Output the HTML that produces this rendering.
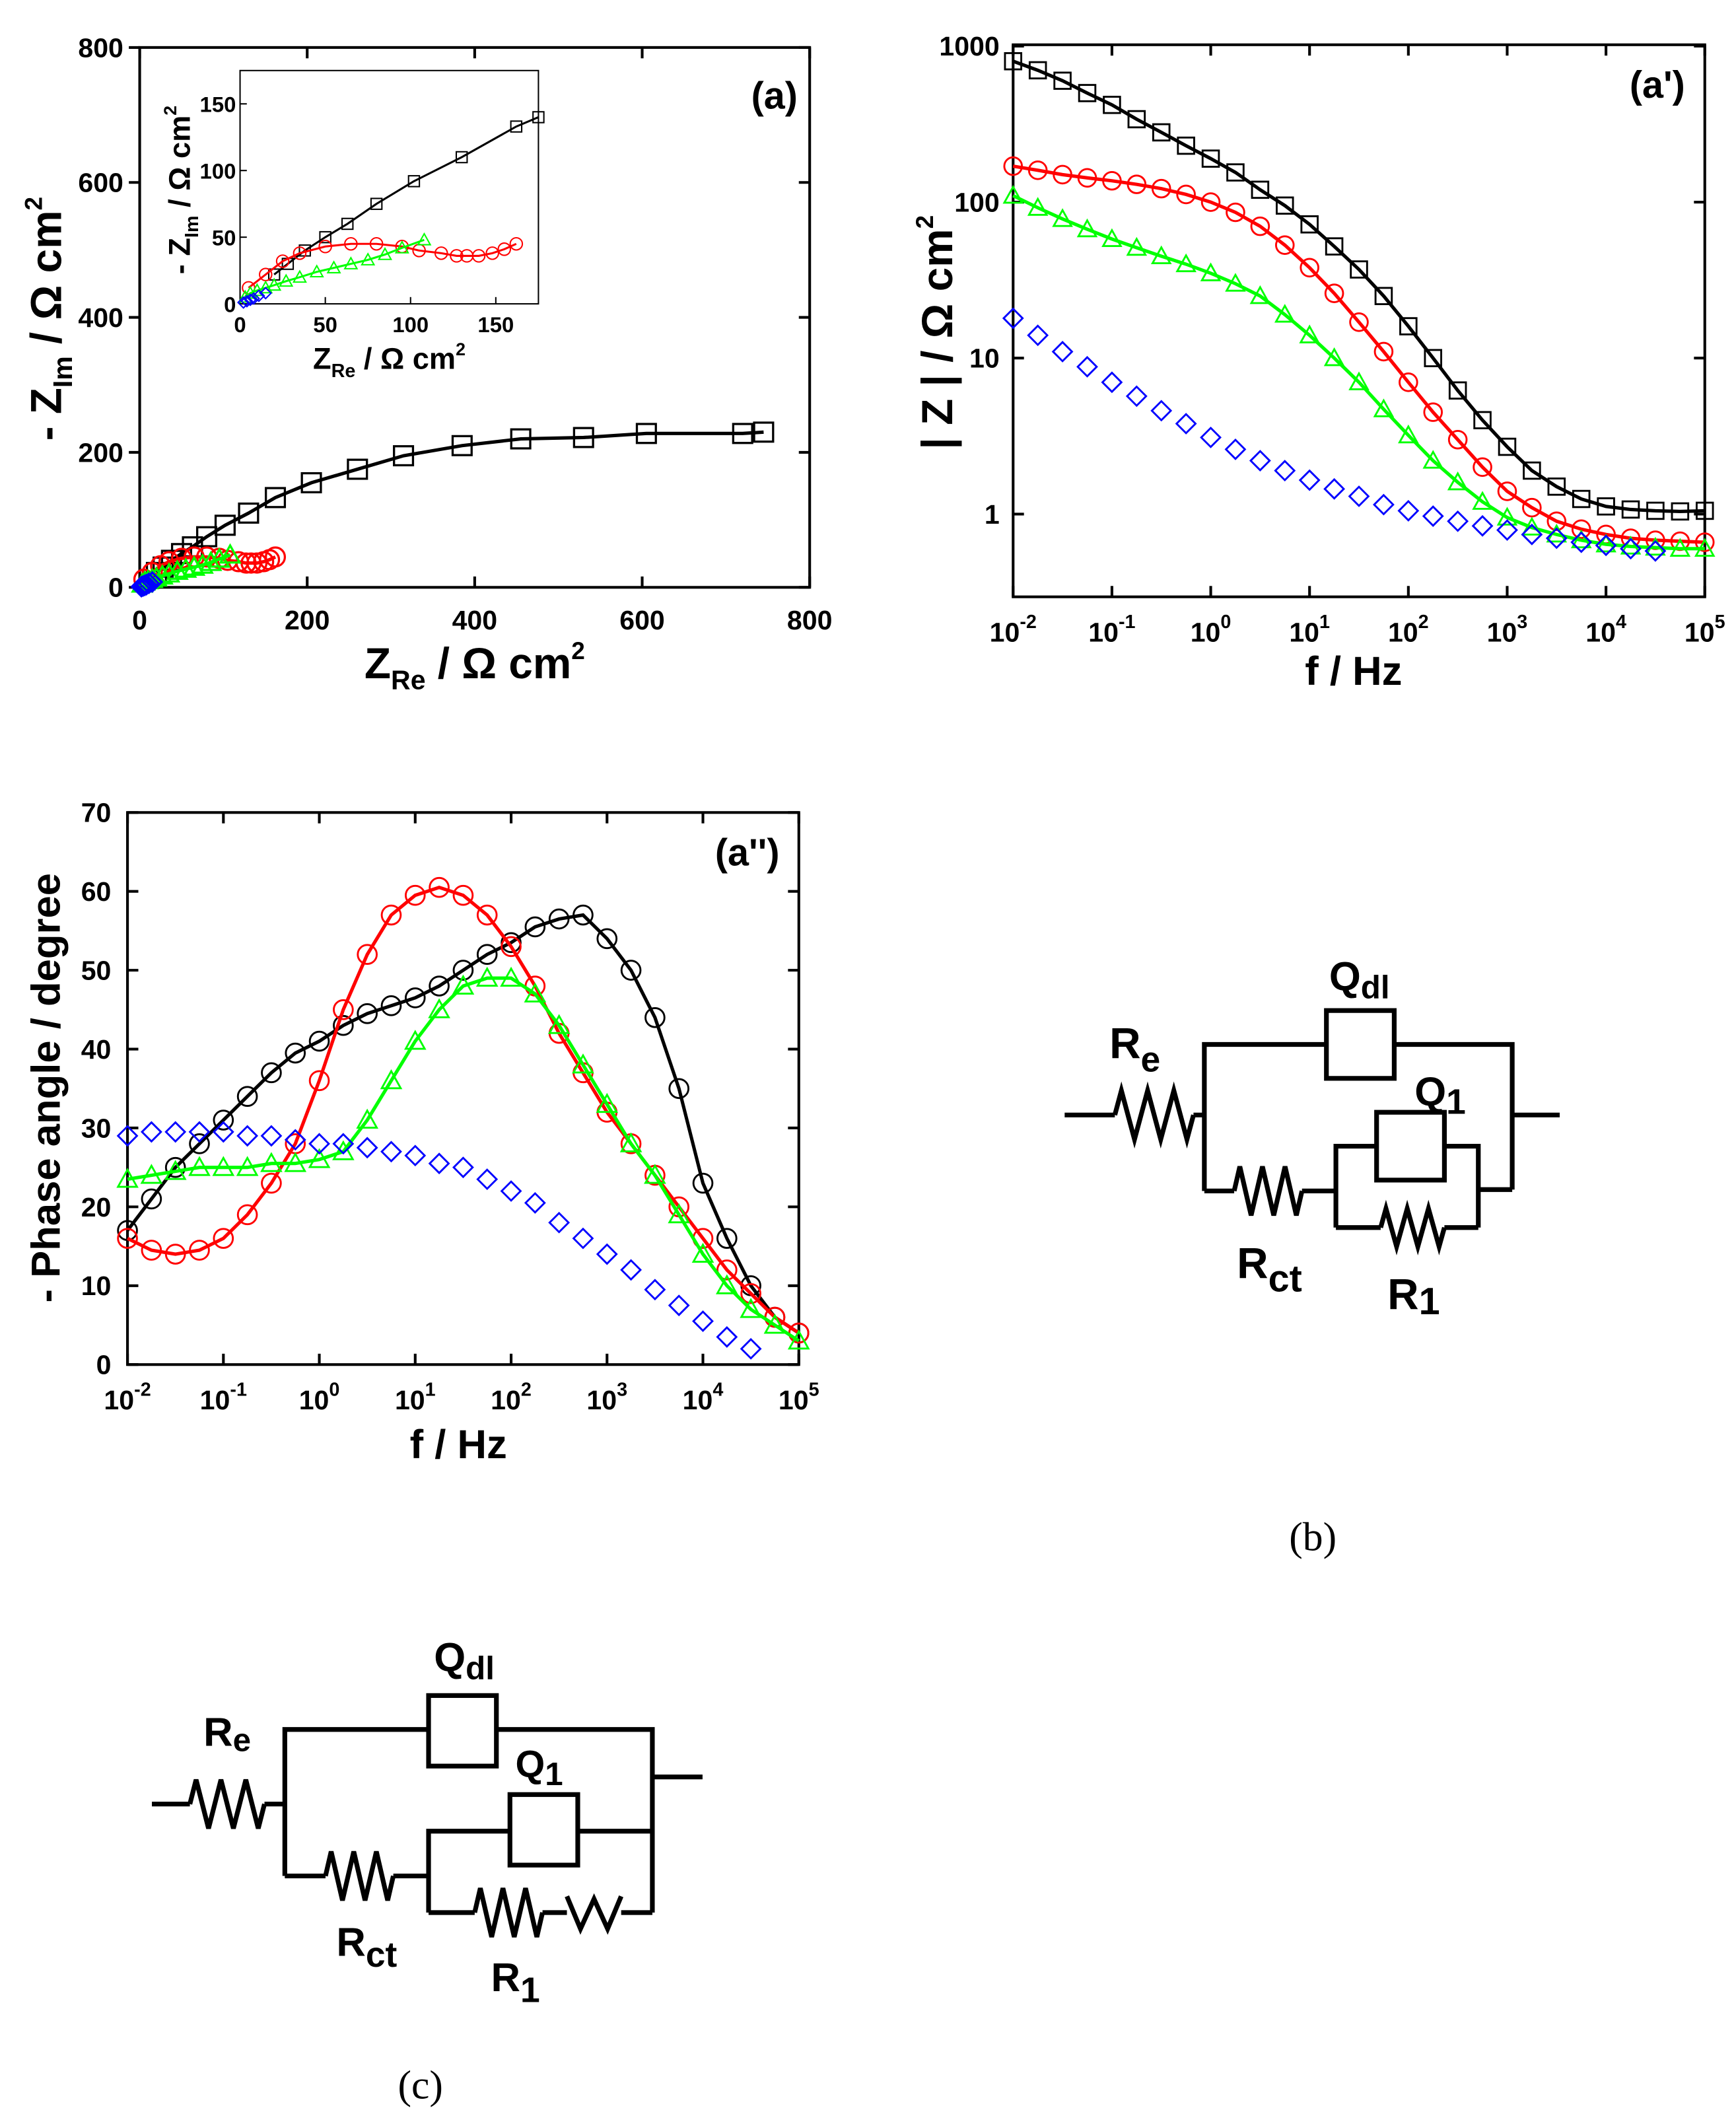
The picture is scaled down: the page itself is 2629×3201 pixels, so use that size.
<!DOCTYPE html>
<html><head><meta charset="utf-8"><style>
html,body{margin:0;padding:0;background:#fff}
svg{display:block}
text{font-family:"Liberation Sans",Arial,sans-serif;font-weight:bold}
text.serif{font-family:"Liberation Serif",serif;font-weight:normal}
</style></head><body>
<svg id="s" width="2629" height="3201" viewBox="0 0 1280 1558.5" xmlns="http://www.w3.org/2000/svg"></svg>
<script>
// ---- Nyquist data ----
const nyqBlackX=[20,28,38,50,63,80,102,130,162,205,260,315,385,455,530,605,720,745];
const nyqBlackY=[22,30,40,50,60,75,92,110,133,155,175,195,210,220,222,228,228,230];
const nyqRedX=[5,15,25,35,50,65,80,95,105,118,127,133,140,148,155,162];
const nyqRedY=[12,22,32,38,43,45,45,43,40,38,36,36,36,38,41,45];
const nyqGreenX=[3,6,10,15,20,27,35,45,55,65,75,85,95,108];
const nyqGreenY=[5,8,10,12,14,17,20,24,27,30,33,37,42,48];
const nyqBlueX=[2,4,6,8,11,15];
const nyqBlueY=[1,2,3,4,6,8];
// ---- Bode data (log10 f) ----
const logF=[-2,-1.75,-1.5,-1.25,-1,-0.75,-0.5,-0.25,0,0.25,0.5,0.75,1,1.25,1.5,1.75,2,2.25,2.5,2.75,3,3.25,3.5,3.75,4,4.25,4.5,4.75,5];
const magBlack=[800,700,600,500,420,340,280,230,190,155,120,95,72,52,37,25,16,10,6.2,4,2.7,1.9,1.5,1.25,1.12,1.07,1.05,1.04,1.05];
const magRed=[170,160,150,143,137,130,122,112,100,86,70,53,38,26,17,11,7,4.5,3,2,1.4,1.1,0.9,0.8,0.74,0.7,0.68,0.67,0.66];
const magGreen=[110,92,78,67,58,51,45,40,35,30,25,19,14,10,7,4.7,3.2,2.2,1.6,1.2,0.95,0.82,0.74,0.68,0.64,0.62,0.61,0.6,0.6];
const magBlue=[18,14,11,8.8,7.0,5.7,4.6,3.8,3.1,2.6,2.2,1.9,1.65,1.45,1.3,1.15,1.05,0.97,0.9,0.84,0.79,0.74,0.7,0.66,0.63,0.6,0.58];
const phBlack=[17,21,25,28,31,34,37,39.5,41,43,44.5,45.5,46.5,48,50,52,53.5,55.5,56.5,57,54,50,44,35,23,16,10,6,4];
const phRed=[16,14.5,14,14.5,16,19,23,28,36,45,52,57,59.5,60.5,59.5,57,53,48,42,37,32,28,24,20,16,12,9,6,4];
const phGreen=[23.5,24,24.5,25,25,25,25.5,25.5,26,27,31,36,41,45,48,49,49,47,43,38,33,28,24,19,14,10,7,5,3];
const phBlue=[29,29.5,29.5,29.5,29.5,29,29,28.5,28,28,27.5,27,26.5,25.5,25,23.5,22,20.5,18,16,14,12,9.5,7.5,5.5,3.5,2];
const nyqTicks=[0,200,400,600,800];
const insetTicks=[0,50,100,150];
const phTicks=[0,10,20,30,40,50,60,70];
const magTicks=[1,10,100,1000];
const decTicks=[-2,-1,0,1,2,3,4,5];

const S=document.getElementById('s');
const NS='http://www.w3.org/2000/svg';
function el(tag,attrs,parent,txt){const e=document.createElementNS(NS,tag);for(const k in attrs)e.setAttribute(k,attrs[k]);if(txt!==undefined)e.textContent=txt;(parent||S).appendChild(e);return e;}
function grp(name){const g=el('g',{},S);


return g;}
const COL={black:'#000',red:'#f00',green:'#0f0',blue:'#00f'};

function marker(g,type,x,y,r,c,sw){
  let m;
  if(type==='sq') m=el('rect',{x:x-r,y:y-r,width:2*r,height:2*r,fill:'none',stroke:c,'stroke-width':sw},g);
  else if(type==='ci') m=el('circle',{cx:x,cy:y,r:r,fill:'none',stroke:c,'stroke-width':sw},g);
  else if(type==='tr') m=el('polygon',{points:`${x},${y-r} ${x+r},${y+r*0.8} ${x-r},${y+r*0.8}`,fill:'none',stroke:c,'stroke-width':sw},g);
  else m=el('polygon',{points:`${x},${y-r} ${x+r},${y} ${x},${y+r} ${x-r},${y}`,fill:'none',stroke:c,'stroke-width':sw},g);
  
  
}
function series(name,xs,ys,fx,fy,type,c,r,sw,lw,line){
  const g=grp(name);
  if(line){const pts=xs.slice(0,ys.length).map((v,i)=>fx(v)+','+fy(ys[i])).join(' ');
    const p=el('polyline',{points:pts,fill:'none',stroke:c,'stroke-width':lw},g);
    
    }
  for(let i=0;i<ys.length;i++) marker(g,type,fx(xs[i]),fy(ys[i]),r,c,sw);
}
function frame(name,x0,y0,x1,y1){const r=el('rect',{x:x0,y:y0,width:x1-x0,height:y1-y0,fill:'none',stroke:'#000','stroke-width':2});

}
function txt(name,x,y,s,size,anchor,extra){const t=el('text',Object.assign({x:x,y:y,'font-size':size,'text-anchor':anchor||'middle'},extra||{}),S);t.innerHTML=s;

return t;}

// ===== Panel (a) Nyquist =====
const ax0=103,ax1=597,ay0=433,ay1=35;
const nx=v=>ax0+(ax1-ax0)*v/800, ny=v=>ay0-(ay0-ay1)*v/800;
frame('nyquist-plot-frame',ax0,ay1,ax1,ay0);
nyqTicks.forEach(t=>{el('line',{x1:nx(t),y1:ay0,x2:nx(t),y2:ay0-8,stroke:'#000','stroke-width':2});el('line',{x1:nx(t),y1:ay1,x2:nx(t),y2:ay1+8,stroke:'#000','stroke-width':2});
 el('line',{x1:ax0,y1:ny(t),x2:ax0-8,y2:ny(t),stroke:'#000','stroke-width':2});el('line',{x1:ax1,y1:ny(t),x2:ax1-8,y2:ny(t),stroke:'#000','stroke-width':2});
 txt('x-tick-label',nx(t),464,t,20);txt('y-tick-label',ax0-12,ny(t)+7,t,20,'end');});
txt('x-axis-title',350,500,'Z<tspan font-size="20" dy="8">Re</tspan><tspan dy="-8"> / Ω cm</tspan><tspan font-size="18" dy="-14">2</tspan>',32);
txt('y-axis-title',0,0,'- Z<tspan font-size="20" dy="8">Im</tspan><tspan dy="-8"> / Ω cm</tspan><tspan font-size="18" dy="-14">2</tspan>',32,'middle',{transform:'translate(45,235) rotate(-90)'});
txt('panel-label-a',571,80,'(a)',28);
series('nyquist-black',nyqBlackX,nyqBlackY,nx,ny,'sq',COL.black,7,1.6,2.5,true);
series('nyquist-red',nyqRedX,nyqRedY,nx,ny,'ci',COL.red,7,1.6,2.5,true);
series('nyquist-green',nyqGreenX,nyqGreenY,nx,ny,'tr',COL.green,7,1.6,2.5,true);
series('nyquist-blue',nyqBlueX,nyqBlueY,nx,ny,'di',COL.blue,7,1.6,2.5,false);
// inset
const ix0=177,ix1=397,iy0=224,iy1=52;
const inx=v=>ix0+(ix1-ix0)*v/175, iny=v=>iy0-(iy0-iy1)*v/175;
el('rect',{x:ix0,y:iy1,width:ix1-ix0,height:iy0-iy1,fill:'#fff',stroke:'#000','stroke-width':1});
insetTicks.forEach(t=>{el('line',{x1:inx(t),y1:iy0,x2:inx(t),y2:iy0-5,stroke:'#000'});el('line',{x1:ix0,y1:iny(t),x2:ix0+5,y2:iny(t),stroke:'#000'});
 txt('inset-x-tick',inx(t),245,t,16);txt('inset-y-tick',ix0-3,iny(t)+6,t,16,'end');});
txt('inset-x-title',287,272,'Z<tspan font-size="14" dy="6">Re</tspan><tspan dy="-6"> / Ω cm</tspan><tspan font-size="13" dy="-10">2</tspan>',22);
txt('inset-y-title',0,0,'- Z<tspan font-size="14" dy="6">Im</tspan><tspan dy="-6"> / Ω cm</tspan><tspan font-size="13" dy="-10">2</tspan>',22,'middle',{transform:'translate(140,140) rotate(-90)'});
const inBX=nyqBlackX.slice(0,9),inBY=nyqBlackY.slice(0,9);
series('inset-black',inBX.concat([175]),inBY.concat([140]),inx,iny,'sq',COL.black,4,1,1.5,true);
series('inset-red',nyqRedX,nyqRedY,inx,iny,'ci',COL.red,4.5,1,1.5,true);
series('inset-green',nyqGreenX,nyqGreenY,inx,iny,'tr',COL.green,4.5,1,1.5,true);
series('inset-blue',nyqBlueX,nyqBlueY,inx,iny,'di',COL.blue,4,1,1.5,false);

// ===== Panel (a') |Z| =====
const bx0=747,bx1=1257,byTop=33,byBot=440;
const bfx=l=>bx0+(bx1-bx0)*(l+2)/7;
const bfy=v=>379-115*Math.log10(v);
frame('bode-mag-frame',bx0,byTop,bx1,byBot);
decTicks.forEach(d=>{el('line',{x1:bfx(d),y1:byBot,x2:bfx(d),y2:byBot-8,stroke:'#000','stroke-width':2});el('line',{x1:bfx(d),y1:byTop,x2:bfx(d),y2:byTop+8,stroke:'#000','stroke-width':2});
 txt('x-tick-label',bfx(d),473,'10<tspan font-size="14" dy="-10">'+d+'</tspan>',20);});
magTicks.forEach(v=>{el('line',{x1:bx0,y1:bfy(v),x2:bx0+8,y2:bfy(v),stroke:'#000','stroke-width':2});el('line',{x1:bx1,y1:bfy(v),x2:bx1-8,y2:bfy(v),stroke:'#000','stroke-width':2});
 txt('y-tick-label',bx0-10,bfy(v)+7,v,20,'end');});
txt('x-axis-title',998,505,'f / Hz',30);
txt('y-axis-title',0,0,'| Z | / Ω cm<tspan font-size="18" dy="-14">2</tspan>',32,'middle',{transform:'translate(702,245) rotate(-90)'});
txt('panel-label-a-prime',1222,72,"(a')",28);
series('mag-black',logF,magBlack,bfx,bfy,'sq',COL.black,6,1.4,2.5,true);
series('mag-red',logF,magRed,bfx,bfy,'ci',COL.red,6.5,1.4,2.5,true);
series('mag-green',logF,magGreen,bfx,bfy,'tr',COL.green,6.5,1.4,2.5,true);
series('mag-blue',logF,magBlue,bfx,bfy,'di',COL.blue,7,1.4,2.5,false);

// ===== Panel (a'') phase =====
const px0=94,px1=589,py0=1006,py1=599;
const pfx=l=>px0+(px1-px0)*(l+2)/7, pfy=v=>py0-(py0-py1)*v/70;
frame('bode-phase-frame',px0,py1,px1,py0);
decTicks.forEach(d=>{el('line',{x1:pfx(d),y1:py0,x2:pfx(d),y2:py0-8,stroke:'#000','stroke-width':2});el('line',{x1:pfx(d),y1:py1,x2:pfx(d),y2:py1+8,stroke:'#000','stroke-width':2});
 txt('x-tick-label',pfx(d),1039,'10<tspan font-size="14" dy="-10">'+d+'</tspan>',20);});
phTicks.forEach(v=>{el('line',{x1:px0,y1:pfy(v),x2:px0+8,y2:pfy(v),stroke:'#000','stroke-width':2});el('line',{x1:px1,y1:pfy(v),x2:px1-8,y2:pfy(v),stroke:'#000','stroke-width':2});
 txt('y-tick-label',px0-12,pfy(v)+7,v,20,'end');});
txt('x-axis-title',338,1075,'f / Hz',30);
txt('y-axis-title',0,0,'- Phase angle / degree',30,'middle',{transform:'translate(44,802) rotate(-90)'});
txt('panel-label-a-dprime',551,638,"(a'')",28);
series('phase-black',logF,phBlack,pfx,pfy,'ci',COL.black,7,1.4,2.5,true);
series('phase-red',logF,phRed,pfx,pfy,'ci',COL.red,7,1.4,2.5,true);
series('phase-green',logF,phGreen,pfx,pfy,'tr',COL.green,7,1.4,2.5,true);
series('phase-blue',logF,phBlue,pfx,pfy,'di',COL.blue,7,1.4,2.5,false);

// ===== Circuits =====
function zig(g,x0,x1,y,n,amp){let p=`${x0},${y}`;const w=(x1-x0)/(n*2);for(let i=0;i<n*2;i++){p+=` ${x0+w*(i+0.5)},${y+(i%2?amp:-amp)}`;}p+=` ${x1},${y}`;el('polyline',{points:p,fill:'none',stroke:'#000','stroke-width':3.5,'stroke-linejoin':'miter'},g);}
function ln(g,pts){el('polyline',{points:pts,fill:'none',stroke:'#000','stroke-width':3.5},g);}
function box(g,x,y,w,h){el('rect',{x:x,y:y,width:w,height:h,fill:'#fff',stroke:'#000','stroke-width':3.5},g);}
// (b)
const gb=grp('circuit-b');
ln(gb,'785,822 822,822');zig(gb,822,880,822,3,18);ln(gb,'880,822 888,822');
ln(gb,'888,878 888,770 1115,770 1115,877');ln(gb,'1115,822 1150,822');
box(gb,978,745,50,50);
ln(gb,'888,878 910,878');zig(gb,910,960,878,3,18);ln(gb,'960,878 985,878');
ln(gb,'985,905 985,845 1090,845 1090,905');box(gb,1015,820,50,50);
ln(gb,'985,905 1018,905');zig(gb,1018,1065,905,3,14);ln(gb,'1065,905 1090,905');ln(gb,'1090,877 1115,877');
txt('label-qdl',980,730,'Q<tspan font-size="24" dy="6">dl</tspan>',30,'start');
txt('label-re',818,780,'R<tspan font-size="26" dy="10">e</tspan>',32,'start');
txt('label-q1',1043,815,'Q<tspan font-size="26" dy="6">1</tspan>',30,'start');
txt('label-rct',912,942,'R<tspan font-size="28" dy="10">ct</tspan>',32,'start');
txt('label-r1',1023,965,'R<tspan font-size="28" dy="4">1</tspan>',32,'start');
txt('caption-b',968,1143,'(b)',30,'middle',{'class':'serif'});
// (c)
const gc=grp('circuit-c');
ln(gc,'112,1330 140,1330');zig(gc,140,195,1330,3,18);ln(gc,'195,1330 210,1330');
ln(gc,'210,1383 210,1275 481,1275 481,1410');ln(gc,'481,1310 518,1310');box(gc,316,1250,50,52);
ln(gc,'210,1383 240,1383');zig(gc,240,290,1383,3,18);ln(gc,'290,1383 316,1383');
ln(gc,'316,1410 316,1350 481,1350');box(gc,376,1323,50,52);
ln(gc,'316,1410 350,1410');zig(gc,350,400,1410,3,18);ln(gc,'400,1410 418,1410');
el('polyline',{points:'418,1398 428,1422 438,1400 448,1422 458,1398',fill:'none',stroke:'#000','stroke-width':3.5},gc);
ln(gc,'458,1410 481,1410');
txt('label-qdl-c',320,1232,'Q<tspan font-size="24" dy="6">dl</tspan>',30,'start');
txt('label-re-c',150,1287,'R<tspan font-size="24" dy="4">e</tspan>',30,'start');
txt('label-q1-c',380,1310,'Q<tspan font-size="24" dy="6">1</tspan>',28,'start');
txt('label-rct-c',248,1442,'R<tspan font-size="26" dy="8">ct</tspan>',30,'start');
txt('label-r1-c',362,1468,'R<tspan font-size="26" dy="8">1</tspan>',30,'start');
txt('caption-c',310,1547,'(c)',30,'middle',{'class':'serif'});
</script>
</body></html>
